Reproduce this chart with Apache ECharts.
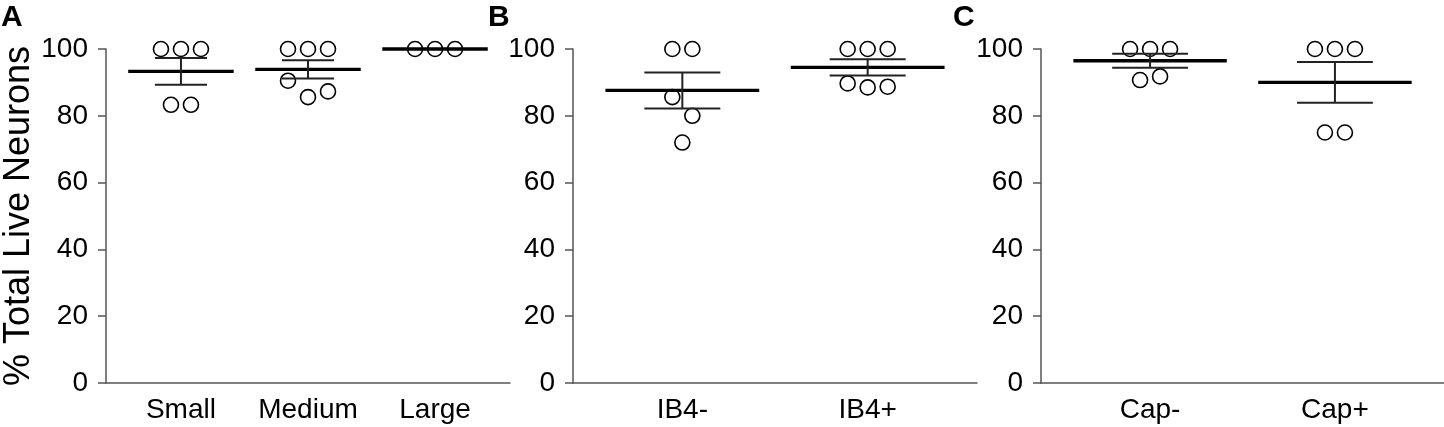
<!DOCTYPE html>
<html>
<head>
<meta charset="utf-8">
<script src="https://cdn.jsdelivr.net/npm/echarts@6/dist/echarts.min.js"></script>
<style>
  html, body { margin: 0; padding: 0; background: #fff; }
  #chart { width: 1444px; height: 427px; }
</style>
</head>
<body>
<div id="chart"></div>
<script>
// panel A - soma size
const catsA = ['Small', 'Medium', 'Large'];
const pointsA = [
  [100, 100, 100, 83.3, 83.3],
  [100, 100, 100, 90.5, 85.6, 87.3],
  [100, 100, 100]
];
const meansA = [93.3, 93.9, 100];
const semsA = [4.0, 2.7, 0];

// panel B - IB4
const catsB = ['IB4-', 'IB4+'];
const pointsB = [
  [100, 100, 85.6, 80, 72],
  [100, 100, 100, 89.7, 88.5, 88.7]
];
const meansB = [87.6, 94.5];
const semsB = [5.4, 2.4];

// panel C - capsaicin
const catsC = ['Cap-', 'Cap+'];
const pointsC = [
  [100, 100, 100, 90.7, 91.8],
  [100, 100, 100, 75, 75]
];
const meansC = [96.5, 90];
const semsC = [2.1, 6.1];

const yTicks = [0, 20, 40, 60, 80, 100];

const FONT = 'Liberation Sans, Arial, sans-serif';
const AXIS_COLOR = '#555';
const DOT_STEP = 20;   // px between dots sharing a row
const DOT_R = 7.5;
const BIN = 6;         // values closer than this share a row

// simple swarm: consecutive values close to the row's first value are spread sideways
function swarmSlots(vals) {
  let groups = [];
  vals.forEach(function (v, i) {
    let g = groups[groups.length - 1];
    if (g && Math.abs(v - vals[g[0]]) < BIN) g.push(i);
    else groups.push([i]);
  });
  let slots = [];
  groups.forEach(function (g) {
    g.forEach(function (idx, k) {
      slots[idx] = k - (g.length - 1) / 2;
    });
  });
  return slots;
}

function dotData(points) {
  let out = [];
  points.forEach(function (vals, c) {
    let slots = swarmSlots(vals);
    vals.forEach(function (v, i) {
      out.push([c + 1, v, slots[i]]);
    });
  });
  return out;
}

function barData(means, sems) {
  return means.map(function (m, c) { return [c + 1, m, sems[c]]; });
}

function renderDot(params, api) {
  let p = api.coord([api.value(0), api.value(1)]);
  return {
    type: 'circle',
    shape: { cx: p[0] + api.value(2) * DOT_STEP, cy: p[1], r: DOT_R },
    style: { fill: '#fff', stroke: '#000', lineWidth: 1.6 }
  };
}

function renderBar(params, api) {
  let c = api.value(0), m = api.value(1), s = api.value(2);
  let meanL = api.coord([c - 0.415, m]), meanR = api.coord([c + 0.415, m]);
  let top = api.coord([c, m + s]), bot = api.coord([c, m - s]);
  let capL = api.coord([c - 0.205, m])[0], capR = api.coord([c + 0.205, m])[0];
  let children = [
    { type: 'line', shape: { x1: meanL[0], y1: meanL[1], x2: meanR[0], y2: meanR[1] },
      style: { stroke: '#000', lineWidth: 3.4 } }
  ];
  if (s > 0) {
    children.push(
      { type: 'line', shape: { x1: top[0], y1: top[1], x2: bot[0], y2: bot[1] },
        style: { stroke: '#222', lineWidth: 2 } },
      { type: 'line', shape: { x1: capL, y1: top[1], x2: capR, y2: top[1] },
        style: { stroke: '#222', lineWidth: 2 } },
      { type: 'line', shape: { x1: capL, y1: bot[1], x2: capR, y2: bot[1] },
        style: { stroke: '#222', lineWidth: 2 } }
    );
  }
  return { type: 'group', children: children };
}

const panels = [
  { cats: catsA, points: pointsA, means: meansA, sems: semsA, left: 106, width: 404 },
  { cats: catsB, points: pointsB, means: meansB, sems: semsB, left: 573, width: 404 },
  { cats: catsC, points: pointsC, means: meansC, sems: semsC, left: 1041, width: 403 }
];

let grids = [], xAxes = [], yAxes = [], series = [];
panels.forEach(function (p, i) {
  grids.push({ left: p.left, width: p.width, top: 49, bottom: 44, containLabel: false });
  xAxes.push({
    type: 'value', gridIndex: i, min: 0.41, max: p.cats.length + 0.59,
    splitLine: { show: false },
    axisTick: { show: false },
    axisLine: { show: true, lineStyle: { color: AXIS_COLOR, width: 1.5 } },
    axisLabel: {
      customValues: p.cats.map(function (c, k) { return k + 1; }),
      formatter: function (v) { return p.cats[Math.round(v) - 1] || ''; },
      color: '#000', fontSize: 28, fontFamily: FONT, margin: 13
    }
  });
  yAxes.push({
    type: 'value', gridIndex: i, min: 0, max: 100, interval: 20,
    splitLine: { show: false },
    axisLine: { show: true, lineStyle: { color: AXIS_COLOR, width: 1.5 } },
    axisTick: { show: true, length: 8, lineStyle: { color: AXIS_COLOR, width: 1.5 } },
    axisLabel: {
      customValues: yTicks,
      color: '#000', fontSize: 28, fontFamily: FONT, margin: 18
    },
    name: i === 0 ? '% Total Live Neurons' : '',
    nameLocation: 'middle',
    nameGap: 63,
    nameTextStyle: { color: '#000', fontSize: 36, fontFamily: FONT }
  });
  series.push({
    type: 'custom', xAxisIndex: i, yAxisIndex: i,
    renderItem: renderDot, data: dotData(p.points), z: 2
  });
  series.push({
    type: 'custom', xAxisIndex: i, yAxisIndex: i,
    renderItem: renderBar, data: barData(p.means, p.sems), z: 3
  });
});

const letterStyle = { fontSize: 30, fontWeight: 'bold', color: '#000', fontFamily: FONT };

let chart = echarts.init(document.getElementById('chart'));
chart.setOption({
  animation: false,
  backgroundColor: '#fff',
  title: [
    { text: 'A', left: 1, top: 3, padding: 0, textStyle: letterStyle },
    { text: 'B', left: 488, top: 3, padding: 0, textStyle: letterStyle },
    { text: 'C', left: 953, top: 3, padding: 0, textStyle: letterStyle }
  ],
  grid: grids,
  xAxis: xAxes,
  yAxis: yAxes,
  series: series
});
</script>
</body>
</html>
